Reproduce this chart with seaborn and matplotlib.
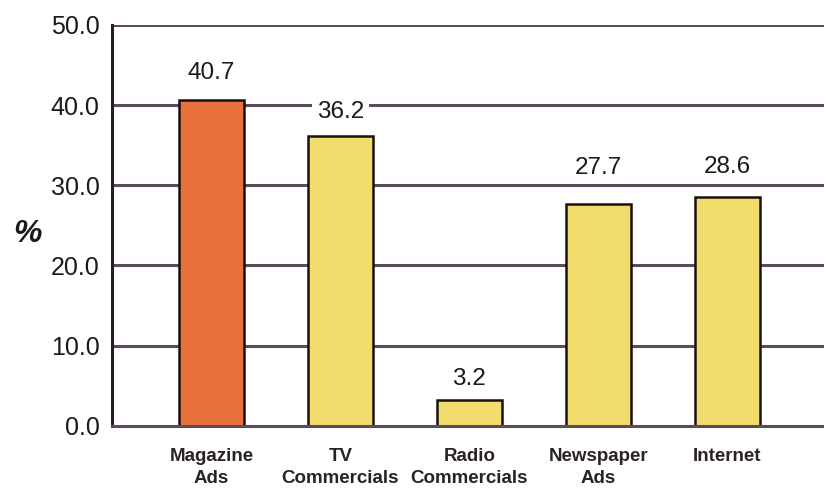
import matplotlib
matplotlib.use("Agg")
import matplotlib.pyplot as plt
import seaborn as sns
import pandas as pd

categories = ["Magazine\nAds", "TV\nCommercials", "Radio\nCommercials", "Newspaper\nAds", "Internet"]
values = [40.7, 36.2, 3.2, 27.7, 28.6]
bar_colors = ["#E8703A", "#F2DC6C", "#F2DC6C", "#F2DC6C", "#F2DC6C"]
y_ticks = [0, 10, 20, 30, 40, 50]

# vertical gap (in points) between each bar top and the centre of its value label
label_gaps = [19, 17, 15.5, 26, 21]

sns.set_theme(style="white")
plt.rcParams["font.family"] = ["Liberation Sans", "DejaVu Sans"]

df = pd.DataFrame({"category": categories, "value": values})

fig = plt.figure(figsize=(8.24, 4.9), dpi=100)
ax = fig.add_axes([0.136, 0.131, 0.864, 0.818])

grid_color = "#5c4a5e"
for t in y_ticks[1:]:
    ax.axhline(t, color=grid_color, lw=2.2, zorder=0)

sns.barplot(data=df, x="category", y="value", hue="category", palette=bar_colors,
            legend=False, width=0.5, edgecolor="#1a1010", linewidth=1.8,
            saturation=1, ax=ax, zorder=2)

for i, (v, gap) in enumerate(zip(values, label_gaps)):
    ax.annotate(f"{v:.1f}", xy=(i, v), xytext=(0, gap), textcoords="offset points",
                ha="center", va="center", fontsize=17.5, color="#1a1a1a", zorder=3,
                bbox=dict(boxstyle="square,pad=0.2", fc="white", ec="none"))

ax.set_ylim(0, 50)
ax.set_xlim(-0.77, 4.75)
ax.set_yticks(y_ticks)
ax.set_yticklabels([f"{t:.1f}" for t in y_ticks], fontsize=18, color="#1a1a1a")
ax.tick_params(axis="x", labelsize=13.5, pad=16, length=0)
ax.tick_params(axis="y", pad=9, length=0)
for lab in ax.get_xticklabels():
    lab.set_fontweight("bold")
    lab.set_color("#2a2228")
    lab.set_linespacing(1.4)

ax.set_xlabel("")
ax.set_ylabel("%", fontsize=23, fontweight="bold", fontstyle="italic", rotation=0,
              color="#1a1a1a", labelpad=0, va="center", ha="center")
ax.yaxis.set_label_coords(-0.119, 0.478)

for side in ["top", "right"]:
    ax.spines[side].set_visible(False)
ax.spines["left"].set_color("#2a1a2a")
ax.spines["left"].set_linewidth(2.2)
ax.spines["bottom"].set_color(grid_color)
ax.spines["bottom"].set_linewidth(2.2)

fig.savefig("out.png", dpi=100)
